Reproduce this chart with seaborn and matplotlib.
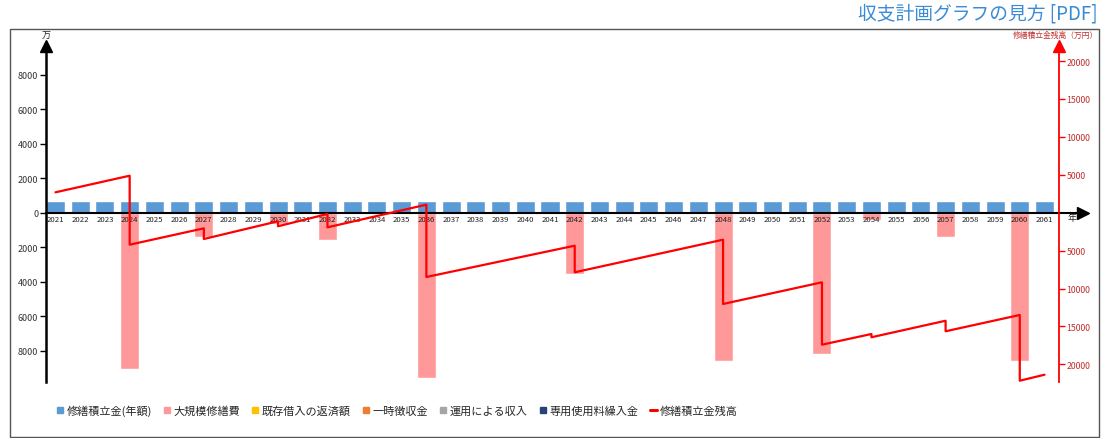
import matplotlib
matplotlib.use("Agg")
import matplotlib.pyplot as plt
from matplotlib.patches import Rectangle
from matplotlib.lines import Line2D
from matplotlib.ticker import FuncFormatter
import seaborn as sns

# ---------------- data ----------------
years = list(range(2021, 2062))
# annual repair reserve income (万円)
reserve = [700, 700, 700, 700, 700, 700, 700, 700, 700, 700,
           700, 700, 700, 700, 700, 700, 700, 700, 700, 700,
           700, 700, 700, 700, 700, 700, 700, 700, 700, 700,
           700, 700, 700, 700, 700, 700, 700, 700, 700, 700,
           700]
# large-scale repair costs (万円, drawn downward)
repair = [0, 0, 0, -9050, 0, 0, -1400, 0, 0, -660,
          0, -1600, 0, 0, 0, -9600, 0, 0, 0, 0,
          0, -3550, 0, 0, 0, 0, 0, -8600, 0, 0,
          0, -8200, 0, -450, 0, 0, -1400, 0, 0, -8570,
          0]
# reserve balance polyline vertices (万円), before / after each repair
line_years = [2021, 2024, 2024, 2027, 2027, 2030, 2030, 2032, 2032, 2036, 2036,
              2042, 2042, 2048, 2048, 2052, 2052, 2054, 2054, 2057, 2057,
              2060, 2060, 2061]
line_balance = [2690, 4880, -4220, -2060, -3470, -1130, -1790, -170, -1930, 1060, -8480,
                -4350, -7860, -3560, -12040, -9180, -17410, -16000, -16430, -14250, -15640,
                -13490, -22160, -21370]

left_ticks = [-8000, -6000, -4000, -2000, 0, 2000, 4000, 6000, 8000]
right_ticks = [-20000, -15000, -10000, -5000, 5000, 10000, 15000, 20000]
legend_labels = ["修繕積立金(年額)", "大規模修繕費", "既存借入の返済額", "一時徴収金",
                 "運用による収入", "専用使用料繰入金", "修繕積立金残高"]
legend_colors = ["#5B9BD5", "#FF9999", "#FFC000", "#ED7D31", "#A5A5A5", "#264478", "#FF0000"]

# ---------------- style ----------------
sns.set_style("white")
plt.rcParams["font.family"] = ["Noto Sans CJK JP", "DejaVu Sans"]

W, H = 1109, 439
fig = plt.figure(figsize=(W / 100, H / 100), dpi=100)

ax_l, ax_r, ax_t, ax_b = 46, 1083, 47, 383
ax = fig.add_axes([ax_l / W, 1 - ax_b / H, (ax_r - ax_l) / W, (ax_b - ax_t) / H])

sns.barplot(x=years, y=reserve, color="#5B9BD5", saturation=1, width=0.77,
            errorbar=None, ax=ax, zorder=1)
sns.barplot(x=years, y=repair, color="#FF9999", saturation=1, width=0.77,
            errorbar=None, ax=ax, zorder=1)

x0 = 55.5
step = (1044.5 - 55.5) / 40
ax.set_xlim((ax_l - x0) / step, (ax_r - x0) / step)
zero_px = 213.7
ax.set_ylim((zero_px - ax_b) * 57.97, (zero_px - ax_t) * 57.97)
ax.set_axisbelow(False)

for s in ["top", "right"]:
    ax.spines[s].set_visible(False)
ax.spines["bottom"].set_position(("data", 0))
ax.spines["bottom"].set_linewidth(1.5)
ax.spines["bottom"].set_color("black")
ax.spines["left"].set_linewidth(1.8)
ax.spines["left"].set_color("black")

ax.set_xticks(range(len(years)))
ax.set_xticklabels([str(y) for y in years])
ax.tick_params(axis="x", length=0, pad=1.5, labelsize=5.6, labelcolor="#222222")
ax.set_yticks(left_ticks)
ax.yaxis.set_major_formatter(FuncFormatter(lambda v, p: f"{abs(int(round(v)))}"))
ax.tick_params(axis="y", length=4, width=1, color="black", pad=1.5,
               labelsize=6.5, labelcolor="#333333", left=True)
ax.set_xlabel("")
ax.set_ylabel("")

# axis arrows
ax.plot([0], [1], marker="^", ms=8, color="black", transform=ax.transAxes, clip_on=False)
ax.plot([1], [0], marker=">", ms=8, color="black", transform=ax.get_yaxis_transform(),
        clip_on=False)

# balance on secondary axis
ax2 = ax.twinx()
line_x = [y - years[0] for y in line_years]
sns.lineplot(x=line_x, y=line_balance, estimator=None, sort=False, color="#FF0000",
             linewidth=1.6, ax=ax2)
ax2.set_ylim((zero_px - ax_b) * 131.9, (zero_px - ax_t) * 131.9)
ax2.set_xlim(ax.get_xlim())
for s in ["top", "left", "bottom"]:
    ax2.spines[s].set_visible(False)
rpos = (1059 - ax_l) / (ax_r - ax_l)
ax2.spines["right"].set_position(("axes", rpos))
ax2.spines["right"].set_color("#FF0000")
ax2.spines["right"].set_linewidth(1.3)
ax2.set_yticks(right_ticks)
ax2.yaxis.set_major_formatter(FuncFormatter(lambda v, p: f"{abs(int(round(v)))}"))
ax2.tick_params(axis="y", length=4, width=1, color="#FF0000", pad=1.5,
                labelsize=6.3, labelcolor="#C03030", right=True)
ax2.set_ylabel("")
ax2.plot([rpos], [1], marker="^", ms=8, color="#FF0000", transform=ax2.transAxes,
         clip_on=False)
if ax2.get_legend():
    ax2.get_legend().remove()

# texts
fig.text(46 / W, 1 - 36 / H, "万", ha="center", va="center", fontsize=6.5, color="#222222")
fig.text(1072 / W, 1 - 219 / H, "年", ha="center", va="center", fontsize=6.5, color="#222222")
fig.text(1098 / W, 1 - 36 / H, "修繕積立金残高（万円）", ha="right", va="center",
         fontsize=5.6, color="#C03030")
fig.text(1098 / W, 1 - 14 / H, "収支計画グラフの見方 [PDF]", ha="right", va="center",
         fontsize=13.5, color="#3A8BD6")

# frame
fig.add_artist(Rectangle((10 / W, 1 - 438 / H), (1099 - 10) / W, (438 - 29.5) / H,
                         transform=fig.transFigure, fill=False, ec="#555555", lw=1))

# legend
handles = []
for lab, col in zip(legend_labels[:-1], legend_colors[:-1]):
    handles.append(Line2D([], [], marker="s", linestyle="none", markersize=4.5,
                          markerfacecolor=col, markeredgecolor=col, label=lab))
handles.append(Line2D([], [], color=legend_colors[-1], lw=2.2, label=legend_labels[-1]))
fig.legend(handles=handles, loc="center left", bbox_to_anchor=(56 / W, 1 - 411 / H),
           ncol=7, frameon=False, fontsize=8, handlelength=0.7, handletextpad=0.25,
           columnspacing=1.0, borderaxespad=0, borderpad=0)

fig.savefig("out.png", dpi=100)
